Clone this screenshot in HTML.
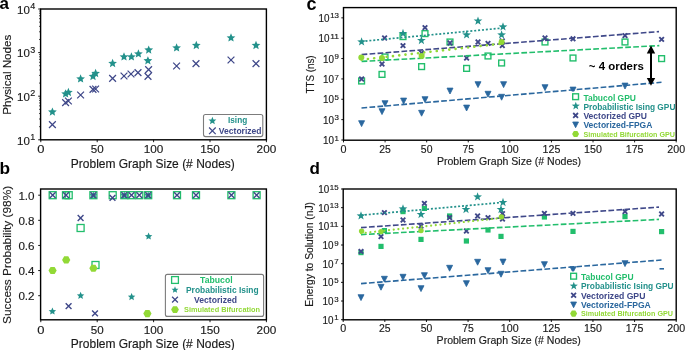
<!DOCTYPE html><html><head><meta charset="utf-8"><style>html,body{margin:0;padding:0;background:#fff;overflow:hidden;width:685px;height:350px;}svg{display:block;will-change:transform;}text{font-family:"Liberation Sans",sans-serif;}</style></head><body>
<svg width="685" height="350" viewBox="0 0 685 350">
<rect width="685" height="350" fill="#fff"/>
<text x="-0.6" y="8.6" font-size="17" text-anchor="start" font-weight="bold" fill="#000">a</text>
<text x="-0.6" y="174" font-size="17.3" text-anchor="start" font-weight="bold" fill="#000">b</text>
<text x="306.4" y="9.5" font-size="18" text-anchor="start" font-weight="bold" fill="#000">c</text>
<text x="309.5" y="174.4" font-size="17" text-anchor="start" font-weight="bold" fill="#000">d</text>
<line x1="39.0" y1="126.68" x2="40.6" y2="126.68" stroke="#000" stroke-width="0.7" stroke-linecap="butt"/>
<line x1="39.0" y1="119.0" x2="40.6" y2="119.0" stroke="#000" stroke-width="0.7" stroke-linecap="butt"/>
<line x1="39.0" y1="113.55" x2="40.6" y2="113.55" stroke="#000" stroke-width="0.7" stroke-linecap="butt"/>
<line x1="39.0" y1="109.32" x2="40.6" y2="109.32" stroke="#000" stroke-width="0.7" stroke-linecap="butt"/>
<line x1="39.0" y1="105.87" x2="40.6" y2="105.87" stroke="#000" stroke-width="0.7" stroke-linecap="butt"/>
<line x1="39.0" y1="102.95" x2="40.6" y2="102.95" stroke="#000" stroke-width="0.7" stroke-linecap="butt"/>
<line x1="39.0" y1="100.43" x2="40.6" y2="100.43" stroke="#000" stroke-width="0.7" stroke-linecap="butt"/>
<line x1="39.0" y1="98.2" x2="40.6" y2="98.2" stroke="#000" stroke-width="0.7" stroke-linecap="butt"/>
<line x1="39.0" y1="83.08" x2="40.6" y2="83.08" stroke="#000" stroke-width="0.7" stroke-linecap="butt"/>
<line x1="39.0" y1="75.4" x2="40.6" y2="75.4" stroke="#000" stroke-width="0.7" stroke-linecap="butt"/>
<line x1="39.0" y1="69.95" x2="40.6" y2="69.95" stroke="#000" stroke-width="0.7" stroke-linecap="butt"/>
<line x1="39.0" y1="65.72" x2="40.6" y2="65.72" stroke="#000" stroke-width="0.7" stroke-linecap="butt"/>
<line x1="39.0" y1="62.27" x2="40.6" y2="62.27" stroke="#000" stroke-width="0.7" stroke-linecap="butt"/>
<line x1="39.0" y1="59.35" x2="40.6" y2="59.35" stroke="#000" stroke-width="0.7" stroke-linecap="butt"/>
<line x1="39.0" y1="56.83" x2="40.6" y2="56.83" stroke="#000" stroke-width="0.7" stroke-linecap="butt"/>
<line x1="39.0" y1="54.6" x2="40.6" y2="54.6" stroke="#000" stroke-width="0.7" stroke-linecap="butt"/>
<line x1="39.0" y1="39.48" x2="40.6" y2="39.48" stroke="#000" stroke-width="0.7" stroke-linecap="butt"/>
<line x1="39.0" y1="31.8" x2="40.6" y2="31.8" stroke="#000" stroke-width="0.7" stroke-linecap="butt"/>
<line x1="39.0" y1="26.35" x2="40.6" y2="26.35" stroke="#000" stroke-width="0.7" stroke-linecap="butt"/>
<line x1="39.0" y1="22.12" x2="40.6" y2="22.12" stroke="#000" stroke-width="0.7" stroke-linecap="butt"/>
<line x1="39.0" y1="18.67" x2="40.6" y2="18.67" stroke="#000" stroke-width="0.7" stroke-linecap="butt"/>
<line x1="39.0" y1="15.75" x2="40.6" y2="15.75" stroke="#000" stroke-width="0.7" stroke-linecap="butt"/>
<line x1="39.0" y1="13.23" x2="40.6" y2="13.23" stroke="#000" stroke-width="0.7" stroke-linecap="butt"/>
<line x1="39.0" y1="11.0" x2="40.6" y2="11.0" stroke="#000" stroke-width="0.7" stroke-linecap="butt"/>
<line x1="38.2" y1="139.8" x2="40.6" y2="139.8" stroke="#000" stroke-width="0.9" stroke-linecap="butt"/>
<text x="35.2" y="139.90" font-size="8.3" text-anchor="end" fill="#1a1a1a" textLength="5.0" lengthAdjust="spacingAndGlyphs" stroke="#1a1a1a" stroke-width="0.15">1</text>
<text x="29.90" y="144.50" font-size="11.6" text-anchor="end" fill="#1a1a1a" textLength="12.8" lengthAdjust="spacingAndGlyphs" stroke="#1a1a1a" stroke-width="0.15">10</text>
<line x1="38.2" y1="96.2" x2="40.6" y2="96.2" stroke="#000" stroke-width="0.9" stroke-linecap="butt"/>
<text x="35.2" y="96.30" font-size="8.3" text-anchor="end" fill="#1a1a1a" textLength="5.0" lengthAdjust="spacingAndGlyphs" stroke="#1a1a1a" stroke-width="0.15">2</text>
<text x="29.90" y="100.90" font-size="11.6" text-anchor="end" fill="#1a1a1a" textLength="12.8" lengthAdjust="spacingAndGlyphs" stroke="#1a1a1a" stroke-width="0.15">10</text>
<line x1="38.2" y1="52.6" x2="40.6" y2="52.6" stroke="#000" stroke-width="0.9" stroke-linecap="butt"/>
<text x="35.2" y="52.70" font-size="8.3" text-anchor="end" fill="#1a1a1a" textLength="5.0" lengthAdjust="spacingAndGlyphs" stroke="#1a1a1a" stroke-width="0.15">3</text>
<text x="29.90" y="57.30" font-size="11.6" text-anchor="end" fill="#1a1a1a" textLength="12.8" lengthAdjust="spacingAndGlyphs" stroke="#1a1a1a" stroke-width="0.15">10</text>
<line x1="38.2" y1="9.0" x2="40.6" y2="9.0" stroke="#000" stroke-width="0.9" stroke-linecap="butt"/>
<text x="35.2" y="9.10" font-size="8.3" text-anchor="end" fill="#1a1a1a" textLength="5.0" lengthAdjust="spacingAndGlyphs" stroke="#1a1a1a" stroke-width="0.15">4</text>
<text x="29.90" y="13.70" font-size="11.6" text-anchor="end" fill="#1a1a1a" textLength="12.8" lengthAdjust="spacingAndGlyphs" stroke="#1a1a1a" stroke-width="0.15">10</text>
<line x1="40.8" y1="139.8" x2="40.8" y2="142.20000000000002" stroke="#000" stroke-width="0.9" stroke-linecap="butt"/>
<text x="40.8" y="153.4" font-size="11.6" text-anchor="middle" font-weight="normal" fill="#1a1a1a" textLength="7.2" lengthAdjust="spacingAndGlyphs" stroke="#1a1a1a" stroke-width="0.15">0</text>
<line x1="97.2" y1="139.8" x2="97.2" y2="142.20000000000002" stroke="#000" stroke-width="0.9" stroke-linecap="butt"/>
<text x="97.2" y="153.4" font-size="11.6" text-anchor="middle" font-weight="normal" fill="#1a1a1a" textLength="12.9" lengthAdjust="spacingAndGlyphs" stroke="#1a1a1a" stroke-width="0.15">50</text>
<line x1="153.6" y1="139.8" x2="153.6" y2="142.20000000000002" stroke="#000" stroke-width="0.9" stroke-linecap="butt"/>
<text x="153.6" y="153.4" font-size="11.6" text-anchor="middle" font-weight="normal" fill="#1a1a1a" textLength="19.6" lengthAdjust="spacingAndGlyphs" stroke="#1a1a1a" stroke-width="0.15">100</text>
<line x1="210.0" y1="139.8" x2="210.0" y2="142.20000000000002" stroke="#000" stroke-width="0.9" stroke-linecap="butt"/>
<text x="210.0" y="153.4" font-size="11.6" text-anchor="middle" font-weight="normal" fill="#1a1a1a" textLength="19.6" lengthAdjust="spacingAndGlyphs" stroke="#1a1a1a" stroke-width="0.15">150</text>
<line x1="266.4" y1="139.8" x2="266.4" y2="142.20000000000002" stroke="#000" stroke-width="0.9" stroke-linecap="butt"/>
<text x="266.4" y="153.4" font-size="11.6" text-anchor="middle" font-weight="normal" fill="#1a1a1a" textLength="19.6" lengthAdjust="spacingAndGlyphs" stroke="#1a1a1a" stroke-width="0.15">200</text>
<text x="152.8" y="167.9" font-size="11.9" text-anchor="middle" font-weight="normal" fill="#1a1a1a" textLength="164" lengthAdjust="spacingAndGlyphs" stroke="#1a1a1a" stroke-width="0.15">Problem Graph Size (# Nodes)</text>
<text transform="translate(10.9,74.75) rotate(-90)" x="0" y="0" font-size="11.4" text-anchor="middle" fill="#1a1a1a" textLength="80" lengthAdjust="spacingAndGlyphs" stroke="#1a1a1a" stroke-width="0.15">Physical Nodes</text>
<polygon points="52.40,107.44 53.62,110.36 56.77,110.62 54.37,112.68 55.10,115.76 52.40,114.11 49.70,115.76 50.43,112.68 48.03,110.62 51.18,110.36" fill="#23918b"/>
<polygon points="65.60,89.24 66.82,92.16 69.97,92.42 67.57,94.48 68.30,97.56 65.60,95.91 62.90,97.56 63.63,94.48 61.23,92.42 64.38,92.16" fill="#23918b"/>
<polygon points="68.40,87.84 69.62,90.76 72.77,91.02 70.37,93.08 71.10,96.16 68.40,94.51 65.70,96.16 66.43,93.08 64.03,91.02 67.18,90.76" fill="#23918b"/>
<polygon points="80.60,74.24 81.82,77.16 84.97,77.42 82.57,79.48 83.30,82.56 80.60,80.91 77.90,82.56 78.63,79.48 76.23,77.42 79.38,77.16" fill="#23918b"/>
<polygon points="93.00,71.84 94.22,74.76 97.37,75.02 94.97,77.08 95.70,80.16 93.00,78.51 90.30,80.16 91.03,77.08 88.63,75.02 91.78,74.76" fill="#23918b"/>
<polygon points="95.60,68.84 96.82,71.76 99.97,72.02 97.57,74.08 98.30,77.16 95.60,75.51 92.90,77.16 93.63,74.08 91.23,72.02 94.38,71.76" fill="#23918b"/>
<polygon points="112.60,58.84 113.82,61.76 116.97,62.02 114.57,64.08 115.30,67.16 112.60,65.51 109.90,67.16 110.63,64.08 108.23,62.02 111.38,61.76" fill="#23918b"/>
<polygon points="124.00,52.24 125.22,55.16 128.37,55.42 125.97,57.48 126.70,60.56 124.00,58.91 121.30,60.56 122.03,57.48 119.63,55.42 122.78,55.16" fill="#23918b"/>
<polygon points="131.40,52.24 132.62,55.16 135.77,55.42 133.37,57.48 134.10,60.56 131.40,58.91 128.70,60.56 129.43,57.48 127.03,55.42 130.18,55.16" fill="#23918b"/>
<polygon points="138.40,49.24 139.62,52.16 142.77,52.42 140.37,54.48 141.10,57.56 138.40,55.91 135.70,57.56 136.43,54.48 134.03,52.42 137.18,52.16" fill="#23918b"/>
<polygon points="148.70,45.44 149.92,48.36 153.07,48.62 150.67,50.68 151.40,53.76 148.70,52.11 146.00,53.76 146.73,50.68 144.33,48.62 147.48,48.36" fill="#23918b"/>
<polygon points="147.90,56.14 149.12,59.06 152.27,59.32 149.87,61.38 150.60,64.46 147.90,62.81 145.20,64.46 145.93,61.38 143.53,59.32 146.68,59.06" fill="#23918b"/>
<polygon points="176.60,43.24 177.82,46.16 180.97,46.42 178.57,48.48 179.30,51.56 176.60,49.91 173.90,51.56 174.63,48.48 172.23,46.42 175.38,46.16" fill="#23918b"/>
<polygon points="196.30,40.84 197.52,43.76 200.67,44.02 198.27,46.08 199.00,49.16 196.30,47.51 193.60,49.16 194.33,46.08 191.93,44.02 195.08,43.76" fill="#23918b"/>
<polygon points="231.00,33.24 232.22,36.16 235.37,36.42 232.97,38.48 233.70,41.56 231.00,39.91 228.30,41.56 229.03,38.48 226.63,36.42 229.78,36.16" fill="#23918b"/>
<polygon points="256.00,40.84 257.22,43.76 260.37,44.02 257.97,46.08 258.70,49.16 256.00,47.51 253.30,49.16 254.03,46.08 251.63,44.02 254.78,43.76" fill="#23918b"/>
<path d="M49.00 121.20L55.80 128.00M49.00 128.00L55.80 121.20" stroke="#3f4889" stroke-width="1.25" fill="none"/>
<path d="M62.20 99.20L69.00 106.00M62.20 106.00L69.00 99.20" stroke="#3f4889" stroke-width="1.25" fill="none"/>
<path d="M65.00 97.60L71.80 104.40M65.00 104.40L71.80 97.60" stroke="#3f4889" stroke-width="1.25" fill="none"/>
<path d="M77.20 91.60L84.00 98.40M77.20 98.40L84.00 91.60" stroke="#3f4889" stroke-width="1.25" fill="none"/>
<path d="M89.60 86.00L96.40 92.80M89.60 92.80L96.40 86.00" stroke="#3f4889" stroke-width="1.25" fill="none"/>
<path d="M92.20 85.60L99.00 92.40M92.20 92.40L99.00 85.60" stroke="#3f4889" stroke-width="1.25" fill="none"/>
<path d="M109.20 75.00L116.00 81.80M109.20 81.80L116.00 75.00" stroke="#3f4889" stroke-width="1.25" fill="none"/>
<path d="M120.60 72.60L127.40 79.40M120.60 79.40L127.40 72.60" stroke="#3f4889" stroke-width="1.25" fill="none"/>
<path d="M127.60 70.60L134.40 77.40M127.60 77.40L134.40 70.60" stroke="#3f4889" stroke-width="1.25" fill="none"/>
<path d="M134.60 69.20L141.40 76.00M134.60 76.00L141.40 69.20" stroke="#3f4889" stroke-width="1.25" fill="none"/>
<path d="M145.20 66.20L152.00 73.00M145.20 73.00L152.00 66.20" stroke="#3f4889" stroke-width="1.25" fill="none"/>
<path d="M144.60 73.00L151.40 79.80M144.60 79.80L151.40 73.00" stroke="#3f4889" stroke-width="1.25" fill="none"/>
<path d="M173.20 62.60L180.00 69.40M173.20 69.40L180.00 62.60" stroke="#3f4889" stroke-width="1.25" fill="none"/>
<path d="M192.60 60.20L199.40 67.00M192.60 67.00L199.40 60.20" stroke="#3f4889" stroke-width="1.25" fill="none"/>
<path d="M227.60 56.60L234.40 63.40M227.60 63.40L234.40 56.60" stroke="#3f4889" stroke-width="1.25" fill="none"/>
<path d="M252.60 60.20L259.40 67.00M252.60 67.00L259.40 60.20" stroke="#3f4889" stroke-width="1.25" fill="none"/>
<rect x="203.5" y="114.5" width="59.3" height="22.1" rx="2" ry="2" fill="#fff" stroke="#7c7c7c" stroke-width="1.1"/>
<polygon points="212.40,116.79 213.48,119.40 216.30,119.62 214.15,121.46 214.81,124.21 212.40,122.73 209.99,124.21 210.65,121.46 208.50,119.62 211.32,119.40" fill="#23918b"/>
<path d="M209.10 127.50L215.70 134.10M209.10 134.10L215.70 127.50" stroke="#3f4889" stroke-width="1.25" fill="none"/>
<text x="237.6" y="123.0" font-size="8.4" text-anchor="middle" font-weight="bold" fill="#23918b" textLength="19.2" lengthAdjust="spacingAndGlyphs">Ising</text>
<text x="240.2" y="133.8" font-size="8.4" text-anchor="middle" font-weight="bold" fill="#3f4889" textLength="42.7" lengthAdjust="spacingAndGlyphs">Vectorized</text>
<rect x="40.6" y="9.0" width="225.79999999999998" height="130.8" fill="none" stroke="#000" stroke-width="1.4"/>
<line x1="38.2" y1="295.7" x2="40.6" y2="295.7" stroke="#000" stroke-width="0.9" stroke-linecap="butt"/>
<text x="34.6" y="300.2" font-size="11.6" text-anchor="end" font-weight="normal" fill="#1a1a1a" textLength="16.2" lengthAdjust="spacingAndGlyphs" stroke="#1a1a1a" stroke-width="0.15">0.2</text>
<line x1="38.2" y1="270.57" x2="40.6" y2="270.57" stroke="#000" stroke-width="0.9" stroke-linecap="butt"/>
<text x="34.6" y="275.07" font-size="11.6" text-anchor="end" font-weight="normal" fill="#1a1a1a" textLength="16.2" lengthAdjust="spacingAndGlyphs" stroke="#1a1a1a" stroke-width="0.15">0.4</text>
<line x1="38.2" y1="245.45" x2="40.6" y2="245.45" stroke="#000" stroke-width="0.9" stroke-linecap="butt"/>
<text x="34.6" y="249.95" font-size="11.6" text-anchor="end" font-weight="normal" fill="#1a1a1a" textLength="16.2" lengthAdjust="spacingAndGlyphs" stroke="#1a1a1a" stroke-width="0.15">0.6</text>
<line x1="38.2" y1="220.32" x2="40.6" y2="220.32" stroke="#000" stroke-width="0.9" stroke-linecap="butt"/>
<text x="34.6" y="224.82" font-size="11.6" text-anchor="end" font-weight="normal" fill="#1a1a1a" textLength="16.2" lengthAdjust="spacingAndGlyphs" stroke="#1a1a1a" stroke-width="0.15">0.8</text>
<line x1="38.2" y1="195.2" x2="40.6" y2="195.2" stroke="#000" stroke-width="0.9" stroke-linecap="butt"/>
<text x="34.6" y="199.7" font-size="11.6" text-anchor="end" font-weight="normal" fill="#1a1a1a" textLength="16.2" lengthAdjust="spacingAndGlyphs" stroke="#1a1a1a" stroke-width="0.15">1.0</text>
<line x1="40.8" y1="319.8" x2="40.8" y2="322.2" stroke="#000" stroke-width="0.9" stroke-linecap="butt"/>
<text x="40.8" y="333.7" font-size="11.6" text-anchor="middle" font-weight="normal" fill="#1a1a1a" textLength="7.2" lengthAdjust="spacingAndGlyphs" stroke="#1a1a1a" stroke-width="0.15">0</text>
<line x1="97.2" y1="319.8" x2="97.2" y2="322.2" stroke="#000" stroke-width="0.9" stroke-linecap="butt"/>
<text x="97.2" y="333.7" font-size="11.6" text-anchor="middle" font-weight="normal" fill="#1a1a1a" textLength="12.9" lengthAdjust="spacingAndGlyphs" stroke="#1a1a1a" stroke-width="0.15">50</text>
<line x1="153.6" y1="319.8" x2="153.6" y2="322.2" stroke="#000" stroke-width="0.9" stroke-linecap="butt"/>
<text x="153.6" y="333.7" font-size="11.6" text-anchor="middle" font-weight="normal" fill="#1a1a1a" textLength="19.6" lengthAdjust="spacingAndGlyphs" stroke="#1a1a1a" stroke-width="0.15">100</text>
<line x1="210.0" y1="319.8" x2="210.0" y2="322.2" stroke="#000" stroke-width="0.9" stroke-linecap="butt"/>
<text x="210.0" y="333.7" font-size="11.6" text-anchor="middle" font-weight="normal" fill="#1a1a1a" textLength="19.6" lengthAdjust="spacingAndGlyphs" stroke="#1a1a1a" stroke-width="0.15">150</text>
<line x1="266.4" y1="319.8" x2="266.4" y2="322.2" stroke="#000" stroke-width="0.9" stroke-linecap="butt"/>
<text x="266.4" y="333.7" font-size="11.6" text-anchor="middle" font-weight="normal" fill="#1a1a1a" textLength="19.6" lengthAdjust="spacingAndGlyphs" stroke="#1a1a1a" stroke-width="0.15">200</text>
<text x="152.8" y="348.1" font-size="11.9" text-anchor="middle" font-weight="normal" fill="#1a1a1a" textLength="164" lengthAdjust="spacingAndGlyphs" stroke="#1a1a1a" stroke-width="0.15">Problem Graph Size (# Nodes)</text>
<text transform="translate(11.2,254.9) rotate(-90)" x="0" y="0" font-size="11.4" text-anchor="middle" fill="#1a1a1a" textLength="138" lengthAdjust="spacingAndGlyphs" stroke="#1a1a1a" stroke-width="0.15">Success Probability (98%)</text>
<rect x="49.20" y="191.70" width="7.00" height="7.00" fill="none" stroke="#22be6c" stroke-width="1.3"/>
<rect x="62.50" y="191.70" width="7.00" height="7.00" fill="none" stroke="#22be6c" stroke-width="1.3"/>
<rect x="65.20" y="191.70" width="7.00" height="7.00" fill="none" stroke="#22be6c" stroke-width="1.3"/>
<rect x="89.90" y="191.70" width="7.00" height="7.00" fill="none" stroke="#22be6c" stroke-width="1.3"/>
<rect x="109.20" y="191.70" width="7.00" height="7.00" fill="none" stroke="#22be6c" stroke-width="1.3"/>
<rect x="120.80" y="191.70" width="7.00" height="7.00" fill="none" stroke="#22be6c" stroke-width="1.3"/>
<rect x="128.00" y="191.70" width="7.00" height="7.00" fill="none" stroke="#22be6c" stroke-width="1.3"/>
<rect x="135.80" y="191.70" width="7.00" height="7.00" fill="none" stroke="#22be6c" stroke-width="1.3"/>
<rect x="144.70" y="191.70" width="7.00" height="7.00" fill="none" stroke="#22be6c" stroke-width="1.3"/>
<rect x="173.50" y="191.70" width="7.00" height="7.00" fill="none" stroke="#22be6c" stroke-width="1.3"/>
<rect x="192.50" y="191.70" width="7.00" height="7.00" fill="none" stroke="#22be6c" stroke-width="1.3"/>
<rect x="227.90" y="191.70" width="7.00" height="7.00" fill="none" stroke="#22be6c" stroke-width="1.3"/>
<rect x="253.10" y="191.70" width="7.00" height="7.00" fill="none" stroke="#22be6c" stroke-width="1.3"/>
<rect x="77.10" y="224.50" width="7.00" height="7.00" fill="none" stroke="#22be6c" stroke-width="1.3"/>
<rect x="92.00" y="261.50" width="7.00" height="7.00" fill="none" stroke="#22be6c" stroke-width="1.3"/>
<polygon points="93.40,191.67 94.48,194.09 97.11,194.37 95.14,196.14 95.69,198.73 93.40,197.40 91.11,198.73 91.66,196.14 89.69,194.37 92.32,194.09" fill="#23918b"/>
<polygon points="124.30,191.67 125.38,194.09 128.01,194.37 126.04,196.14 126.59,198.73 124.30,197.40 122.01,198.73 122.56,196.14 120.59,194.37 123.22,194.09" fill="#23918b"/>
<polygon points="148.20,191.67 149.28,194.09 151.91,194.37 149.94,196.14 150.49,198.73 148.20,197.40 145.91,198.73 146.46,196.14 144.49,194.37 147.12,194.09" fill="#23918b"/>
<polygon points="148.60,232.47 149.68,234.89 152.31,235.17 150.34,236.94 150.89,239.53 148.60,238.20 146.31,239.53 146.86,236.94 144.89,235.17 147.52,234.89" fill="#23918b"/>
<polygon points="80.60,291.87 81.68,294.29 84.31,294.57 82.34,296.34 82.89,298.93 80.60,297.60 78.31,298.93 78.86,296.34 76.89,294.57 79.52,294.29" fill="#23918b"/>
<polygon points="131.60,293.07 132.68,295.49 135.31,295.77 133.34,297.54 133.89,300.13 131.60,298.80 129.31,300.13 129.86,297.54 127.89,295.77 130.52,295.49" fill="#23918b"/>
<polygon points="52.40,307.47 53.48,309.89 56.11,310.17 54.14,311.94 54.69,314.53 52.40,313.20 50.11,314.53 50.66,311.94 48.69,310.17 51.32,309.89" fill="#23918b"/>
<path d="M49.80 192.30L55.60 198.10M49.80 198.10L55.60 192.30" stroke="#3f4889" stroke-width="1.4" fill="none"/>
<path d="M63.10 192.30L68.90 198.10M63.10 198.10L68.90 192.30" stroke="#3f4889" stroke-width="1.4" fill="none"/>
<path d="M90.50 192.30L96.30 198.10M90.50 198.10L96.30 192.30" stroke="#3f4889" stroke-width="1.4" fill="none"/>
<path d="M121.40 192.30L127.20 198.10M121.40 198.10L127.20 192.30" stroke="#3f4889" stroke-width="1.4" fill="none"/>
<path d="M128.60 192.30L134.40 198.10M128.60 198.10L134.40 192.30" stroke="#3f4889" stroke-width="1.4" fill="none"/>
<path d="M136.40 192.30L142.20 198.10M136.40 198.10L142.20 192.30" stroke="#3f4889" stroke-width="1.4" fill="none"/>
<path d="M145.30 192.30L151.10 198.10M145.30 198.10L151.10 192.30" stroke="#3f4889" stroke-width="1.4" fill="none"/>
<path d="M174.10 192.30L179.90 198.10M174.10 198.10L179.90 192.30" stroke="#3f4889" stroke-width="1.4" fill="none"/>
<path d="M193.10 192.30L198.90 198.10M193.10 198.10L198.90 192.30" stroke="#3f4889" stroke-width="1.4" fill="none"/>
<path d="M228.50 192.30L234.30 198.10M228.50 198.10L234.30 192.30" stroke="#3f4889" stroke-width="1.4" fill="none"/>
<path d="M253.70 192.30L259.50 198.10M253.70 198.10L259.50 192.30" stroke="#3f4889" stroke-width="1.4" fill="none"/>
<path d="M109.60 194.90L115.40 200.70M109.60 200.70L115.40 194.90" stroke="#3f4889" stroke-width="1.4" fill="none"/>
<path d="M77.70 215.10L83.50 220.90M77.70 220.90L83.50 215.10" stroke="#3f4889" stroke-width="1.4" fill="none"/>
<path d="M65.70 303.30L71.50 309.10M65.70 309.10L71.50 303.30" stroke="#3f4889" stroke-width="1.4" fill="none"/>
<path d="M92.10 310.50L97.90 316.30M92.10 316.30L97.90 310.50" stroke="#3f4889" stroke-width="1.4" fill="none"/>
<polygon points="56.70,270.50 54.65,274.05 50.55,274.05 48.50,270.50 50.55,266.95 54.65,266.95" fill="#92d936"/>
<polygon points="70.30,259.90 68.25,263.45 64.15,263.45 62.10,259.90 64.15,256.35 68.25,256.35" fill="#92d936"/>
<polygon points="97.50,268.20 95.45,271.75 91.35,271.75 89.30,268.20 91.35,264.65 95.45,264.65" fill="#92d936"/>
<polygon points="151.50,313.60 149.45,317.15 145.35,317.15 143.30,313.60 145.35,310.05 149.45,310.05" fill="#92d936"/>
<rect x="165.4" y="274.4" width="98.2" height="42" rx="2" ry="2" fill="#fff" stroke="#7c7c7c" stroke-width="1.1"/>
<rect x="171.60" y="276.60" width="6.80" height="6.80" fill="none" stroke="#22be6c" stroke-width="1.3"/>
<polygon points="175.00,286.34 175.95,288.63 178.42,288.83 176.54,290.44 177.12,292.85 175.00,291.56 172.88,292.85 173.46,290.44 171.58,288.83 174.05,288.63" fill="#23918b"/>
<path d="M172.10 296.70L177.90 302.50M172.10 302.50L177.90 296.70" stroke="#3f4889" stroke-width="1.25" fill="none"/>
<polygon points="178.90,309.60 176.95,312.98 173.05,312.98 171.10,309.60 173.05,306.22 176.95,306.22" fill="#92d936"/>
<text x="216.3" y="283.1" font-size="8.4" text-anchor="middle" font-weight="bold" fill="#22be6c" textLength="32.6" lengthAdjust="spacingAndGlyphs">Tabucol</text>
<text x="222.3" y="292.7" font-size="8.4" text-anchor="middle" font-weight="bold" fill="#23918b" textLength="72.6" lengthAdjust="spacingAndGlyphs">Probabilistic Ising</text>
<text x="215.5" y="302.7" font-size="8.4" text-anchor="middle" font-weight="bold" fill="#3f4889" textLength="43" lengthAdjust="spacingAndGlyphs">Vectorized</text>
<text x="222.0" y="312.3" font-size="8.0" text-anchor="middle" font-weight="bold" fill="#92d936" textLength="76" lengthAdjust="spacingAndGlyphs">Simulated Bifurcation</text>
<rect x="40.6" y="189.0" width="225.79999999999998" height="130.8" fill="none" stroke="#000" stroke-width="1.4"/>
<line x1="341.3" y1="140.0" x2="343.5" y2="140.0" stroke="#000" stroke-width="0.9" stroke-linecap="butt"/>
<text x="339.0" y="140.60" font-size="7.0" text-anchor="end" fill="#1a1a1a" textLength="4.4" lengthAdjust="spacingAndGlyphs" stroke="#1a1a1a" stroke-width="0.15">1</text>
<text x="334.00" y="144.10" font-size="10.2" text-anchor="end" fill="#1a1a1a" textLength="11.0" lengthAdjust="spacingAndGlyphs" stroke="#1a1a1a" stroke-width="0.15">10</text>
<line x1="341.3" y1="119.64" x2="343.5" y2="119.64" stroke="#000" stroke-width="0.9" stroke-linecap="butt"/>
<text x="339.0" y="120.24" font-size="7.0" text-anchor="end" fill="#1a1a1a" textLength="4.4" lengthAdjust="spacingAndGlyphs" stroke="#1a1a1a" stroke-width="0.15">3</text>
<text x="334.00" y="123.74" font-size="10.2" text-anchor="end" fill="#1a1a1a" textLength="11.0" lengthAdjust="spacingAndGlyphs" stroke="#1a1a1a" stroke-width="0.15">10</text>
<line x1="341.3" y1="99.28" x2="343.5" y2="99.28" stroke="#000" stroke-width="0.9" stroke-linecap="butt"/>
<text x="339.0" y="99.88" font-size="7.0" text-anchor="end" fill="#1a1a1a" textLength="4.4" lengthAdjust="spacingAndGlyphs" stroke="#1a1a1a" stroke-width="0.15">5</text>
<text x="334.00" y="103.38" font-size="10.2" text-anchor="end" fill="#1a1a1a" textLength="11.0" lengthAdjust="spacingAndGlyphs" stroke="#1a1a1a" stroke-width="0.15">10</text>
<line x1="341.3" y1="78.92" x2="343.5" y2="78.92" stroke="#000" stroke-width="0.9" stroke-linecap="butt"/>
<text x="339.0" y="79.52" font-size="7.0" text-anchor="end" fill="#1a1a1a" textLength="4.4" lengthAdjust="spacingAndGlyphs" stroke="#1a1a1a" stroke-width="0.15">7</text>
<text x="334.00" y="83.02" font-size="10.2" text-anchor="end" fill="#1a1a1a" textLength="11.0" lengthAdjust="spacingAndGlyphs" stroke="#1a1a1a" stroke-width="0.15">10</text>
<line x1="341.3" y1="58.56" x2="343.5" y2="58.56" stroke="#000" stroke-width="0.9" stroke-linecap="butt"/>
<text x="339.0" y="59.16" font-size="7.0" text-anchor="end" fill="#1a1a1a" textLength="4.4" lengthAdjust="spacingAndGlyphs" stroke="#1a1a1a" stroke-width="0.15">9</text>
<text x="334.00" y="62.66" font-size="10.2" text-anchor="end" fill="#1a1a1a" textLength="11.0" lengthAdjust="spacingAndGlyphs" stroke="#1a1a1a" stroke-width="0.15">10</text>
<line x1="341.3" y1="38.2" x2="343.5" y2="38.2" stroke="#000" stroke-width="0.9" stroke-linecap="butt"/>
<text x="339.0" y="38.80" font-size="7.0" text-anchor="end" fill="#1a1a1a" textLength="8.8" lengthAdjust="spacingAndGlyphs" stroke="#1a1a1a" stroke-width="0.15">11</text>
<text x="329.60" y="42.30" font-size="10.2" text-anchor="end" fill="#1a1a1a" textLength="11.0" lengthAdjust="spacingAndGlyphs" stroke="#1a1a1a" stroke-width="0.15">10</text>
<line x1="341.3" y1="17.84" x2="343.5" y2="17.84" stroke="#000" stroke-width="0.9" stroke-linecap="butt"/>
<text x="339.0" y="18.44" font-size="7.0" text-anchor="end" fill="#1a1a1a" textLength="8.8" lengthAdjust="spacingAndGlyphs" stroke="#1a1a1a" stroke-width="0.15">13</text>
<text x="329.60" y="21.94" font-size="10.2" text-anchor="end" fill="#1a1a1a" textLength="11.0" lengthAdjust="spacingAndGlyphs" stroke="#1a1a1a" stroke-width="0.15">10</text>
<line x1="343.5" y1="140.2" x2="343.5" y2="142.39999999999998" stroke="#000" stroke-width="0.9" stroke-linecap="butt"/>
<text x="343.5" y="152.8" font-size="10.2" text-anchor="middle" font-weight="normal" fill="#1a1a1a" textLength="6.0" lengthAdjust="spacingAndGlyphs" stroke="#1a1a1a" stroke-width="0.15">0</text>
<line x1="385.09" y1="140.2" x2="385.09" y2="142.39999999999998" stroke="#000" stroke-width="0.9" stroke-linecap="butt"/>
<text x="385.09" y="152.8" font-size="10.2" text-anchor="middle" font-weight="normal" fill="#1a1a1a" textLength="11.6" lengthAdjust="spacingAndGlyphs" stroke="#1a1a1a" stroke-width="0.15">25</text>
<line x1="426.68" y1="140.2" x2="426.68" y2="142.39999999999998" stroke="#000" stroke-width="0.9" stroke-linecap="butt"/>
<text x="426.68" y="152.8" font-size="10.2" text-anchor="middle" font-weight="normal" fill="#1a1a1a" textLength="11.6" lengthAdjust="spacingAndGlyphs" stroke="#1a1a1a" stroke-width="0.15">50</text>
<line x1="468.26" y1="140.2" x2="468.26" y2="142.39999999999998" stroke="#000" stroke-width="0.9" stroke-linecap="butt"/>
<text x="468.26" y="152.8" font-size="10.2" text-anchor="middle" font-weight="normal" fill="#1a1a1a" textLength="11.6" lengthAdjust="spacingAndGlyphs" stroke="#1a1a1a" stroke-width="0.15">75</text>
<line x1="509.85" y1="140.2" x2="509.85" y2="142.39999999999998" stroke="#000" stroke-width="0.9" stroke-linecap="butt"/>
<text x="509.85" y="152.8" font-size="10.2" text-anchor="middle" font-weight="normal" fill="#1a1a1a" textLength="17.8" lengthAdjust="spacingAndGlyphs" stroke="#1a1a1a" stroke-width="0.15">100</text>
<line x1="551.44" y1="140.2" x2="551.44" y2="142.39999999999998" stroke="#000" stroke-width="0.9" stroke-linecap="butt"/>
<text x="551.44" y="152.8" font-size="10.2" text-anchor="middle" font-weight="normal" fill="#1a1a1a" textLength="17.8" lengthAdjust="spacingAndGlyphs" stroke="#1a1a1a" stroke-width="0.15">125</text>
<line x1="593.03" y1="140.2" x2="593.03" y2="142.39999999999998" stroke="#000" stroke-width="0.9" stroke-linecap="butt"/>
<text x="593.03" y="152.8" font-size="10.2" text-anchor="middle" font-weight="normal" fill="#1a1a1a" textLength="17.8" lengthAdjust="spacingAndGlyphs" stroke="#1a1a1a" stroke-width="0.15">150</text>
<line x1="634.61" y1="140.2" x2="634.61" y2="142.39999999999998" stroke="#000" stroke-width="0.9" stroke-linecap="butt"/>
<text x="634.61" y="152.8" font-size="10.2" text-anchor="middle" font-weight="normal" fill="#1a1a1a" textLength="17.8" lengthAdjust="spacingAndGlyphs" stroke="#1a1a1a" stroke-width="0.15">175</text>
<line x1="676.2" y1="140.2" x2="676.2" y2="142.39999999999998" stroke="#000" stroke-width="0.9" stroke-linecap="butt"/>
<text x="676.2" y="152.8" font-size="10.2" text-anchor="middle" font-weight="normal" fill="#1a1a1a" textLength="17.8" lengthAdjust="spacingAndGlyphs" stroke="#1a1a1a" stroke-width="0.15">200</text>
<text x="509.0" y="164.6" font-size="10.4" text-anchor="middle" font-weight="normal" fill="#1a1a1a" textLength="144.2" lengthAdjust="spacingAndGlyphs" stroke="#1a1a1a" stroke-width="0.15">Problem Graph Size (# Nodes)</text>
<text transform="translate(313.5,74.5) rotate(-90)" x="0" y="0" font-size="10.0" text-anchor="middle" fill="#1a1a1a" textLength="38.2" lengthAdjust="spacingAndGlyphs" stroke="#1a1a1a" stroke-width="0.15">TTS (ns)</text>
<rect x="400.10" y="33.70" width="5.80" height="5.80" fill="none" stroke="#22be6c" stroke-width="1.4"/>
<rect x="422.10" y="30.70" width="5.80" height="5.80" fill="none" stroke="#22be6c" stroke-width="1.4"/>
<rect x="447.10" y="39.10" width="5.80" height="5.80" fill="none" stroke="#22be6c" stroke-width="1.4"/>
<rect x="382.10" y="54.10" width="5.80" height="5.80" fill="none" stroke="#22be6c" stroke-width="1.4"/>
<rect x="418.70" y="63.70" width="5.80" height="5.80" fill="none" stroke="#22be6c" stroke-width="1.4"/>
<rect x="463.70" y="65.50" width="5.80" height="5.80" fill="none" stroke="#22be6c" stroke-width="1.4"/>
<rect x="379.10" y="71.50" width="5.80" height="5.80" fill="none" stroke="#22be6c" stroke-width="1.4"/>
<rect x="358.70" y="78.10" width="5.80" height="5.80" fill="none" stroke="#22be6c" stroke-width="1.4"/>
<rect x="485.10" y="53.10" width="5.80" height="5.80" fill="none" stroke="#22be6c" stroke-width="1.4"/>
<rect x="498.70" y="60.10" width="5.80" height="5.80" fill="none" stroke="#22be6c" stroke-width="1.4"/>
<rect x="542.10" y="39.10" width="5.80" height="5.80" fill="none" stroke="#22be6c" stroke-width="1.4"/>
<rect x="570.10" y="55.10" width="5.80" height="5.80" fill="none" stroke="#22be6c" stroke-width="1.4"/>
<rect x="622.10" y="39.10" width="5.80" height="5.80" fill="none" stroke="#22be6c" stroke-width="1.4"/>
<rect x="658.70" y="55.70" width="5.80" height="5.80" fill="none" stroke="#22be6c" stroke-width="1.4"/>
<path d="M382.30 35.70L386.90 40.30M382.30 40.30L386.90 35.70" stroke="#3f4889" stroke-width="1.9" fill="none"/>
<path d="M400.70 43.30L405.30 47.90M400.70 47.90L405.30 43.30" stroke="#3f4889" stroke-width="1.9" fill="none"/>
<path d="M422.70 25.30L427.30 29.90M422.70 29.90L427.30 25.30" stroke="#3f4889" stroke-width="1.9" fill="none"/>
<path d="M447.70 40.70L452.30 45.30M447.70 45.30L452.30 40.70" stroke="#3f4889" stroke-width="1.9" fill="none"/>
<path d="M464.30 55.70L468.90 60.30M464.30 60.30L468.90 55.70" stroke="#3f4889" stroke-width="1.9" fill="none"/>
<path d="M379.70 61.70L384.30 66.30M379.70 66.30L384.30 61.70" stroke="#3f4889" stroke-width="1.9" fill="none"/>
<path d="M475.70 39.70L480.30 44.30M475.70 44.30L480.30 39.70" stroke="#3f4889" stroke-width="1.9" fill="none"/>
<path d="M419.30 50.70L423.90 55.30M419.30 55.30L423.90 50.70" stroke="#3f4889" stroke-width="1.9" fill="none"/>
<path d="M359.30 76.70L363.90 81.30M359.30 81.30L363.90 76.70" stroke="#3f4889" stroke-width="1.9" fill="none"/>
<path d="M485.70 41.10L490.30 45.70M485.70 45.70L490.30 41.10" stroke="#3f4889" stroke-width="1.9" fill="none"/>
<path d="M500.00 38.70L504.60 43.30M500.00 43.30L504.60 38.70" stroke="#3f4889" stroke-width="1.9" fill="none"/>
<path d="M500.00 43.20L504.60 47.80M500.00 47.80L504.60 43.20" stroke="#3f4889" stroke-width="1.9" fill="none"/>
<path d="M542.70 35.70L547.30 40.30M542.70 40.30L547.30 35.70" stroke="#3f4889" stroke-width="1.9" fill="none"/>
<path d="M570.70 36.50L575.30 41.10M570.70 41.10L575.30 36.50" stroke="#3f4889" stroke-width="1.9" fill="none"/>
<path d="M622.70 33.30L627.30 37.90M622.70 37.90L627.30 33.30" stroke="#3f4889" stroke-width="1.9" fill="none"/>
<path d="M659.30 37.10L663.90 41.70M659.30 41.70L663.90 37.10" stroke="#3f4889" stroke-width="1.9" fill="none"/>
<line x1="361.6" y1="61.4" x2="659.3" y2="45.6" stroke="#22be6c" stroke-width="1.6" stroke-dasharray="5.7 2.3" stroke-linecap="butt"/>
<line x1="361.6" y1="54.6" x2="659" y2="31.6" stroke="#3f4889" stroke-width="1.6" stroke-dasharray="5.7 2.3" stroke-linecap="butt"/>
<circle cx="361.3" cy="57.4" r="3.0" fill="#92d936"/>
<circle cx="382" cy="58" r="3.0" fill="#92d936"/>
<circle cx="421.6" cy="56" r="3.0" fill="#92d936"/>
<circle cx="501.6" cy="42" r="3.0" fill="#92d936"/>
<line x1="361.6" y1="59.7" x2="505" y2="43.2" stroke="#92d936" stroke-width="2.6" stroke-dasharray="0.1 6.2" stroke-linecap="round"/>
<polygon points="361.60,37.24 362.68,40.35 365.97,40.42 363.35,42.41 364.30,45.56 361.60,43.68 358.90,45.56 359.85,42.41 357.23,40.42 360.52,40.35" fill="#23918b"/>
<polygon points="403.00,28.84 404.08,31.95 407.37,32.02 404.75,34.01 405.70,37.16 403.00,35.28 400.30,37.16 401.25,34.01 398.63,32.02 401.92,31.95" fill="#23918b"/>
<polygon points="421.40,35.84 422.48,38.95 425.77,39.02 423.15,41.01 424.10,44.16 421.40,42.28 418.70,44.16 419.65,41.01 417.03,39.02 420.32,38.95" fill="#23918b"/>
<polygon points="466.60,30.24 467.68,33.35 470.97,33.42 468.35,35.41 469.30,38.56 466.60,36.68 463.90,38.56 464.85,35.41 462.23,33.42 465.52,33.35" fill="#23918b"/>
<polygon points="478.00,16.44 479.08,19.55 482.37,19.62 479.75,21.61 480.70,24.76 478.00,22.88 475.30,24.76 476.25,21.61 473.63,19.62 476.92,19.55" fill="#23918b"/>
<polygon points="503.00,22.24 504.08,25.35 507.37,25.42 504.75,27.41 505.70,30.56 503.00,28.68 500.30,30.56 501.25,27.41 498.63,25.42 501.92,25.35" fill="#23918b"/>
<polygon points="501.60,30.24 502.68,33.35 505.97,33.42 503.35,35.41 504.30,38.56 501.60,36.68 498.90,38.56 499.85,35.41 497.23,33.42 500.52,33.35" fill="#23918b"/>
<line x1="361.6" y1="41.4" x2="503" y2="28" stroke="#23918b" stroke-width="1.7" stroke-dasharray="2 1.9" stroke-linecap="butt"/>
<polygon points="358.60,120.70 364.60,120.70 361.60,126.60" fill="#2a679e" stroke="#2a679e" stroke-width="0.8" stroke-linejoin="round"/>
<polygon points="379.00,108.70 385.00,108.70 382.00,114.60" fill="#2a679e" stroke="#2a679e" stroke-width="0.8" stroke-linejoin="round"/>
<polygon points="382.00,100.70 388.00,100.70 385.00,106.60" fill="#2a679e" stroke="#2a679e" stroke-width="0.8" stroke-linejoin="round"/>
<polygon points="400.60,98.10 406.60,98.10 403.60,104.00" fill="#2a679e" stroke="#2a679e" stroke-width="0.8" stroke-linejoin="round"/>
<polygon points="418.60,110.30 424.60,110.30 421.60,116.20" fill="#2a679e" stroke="#2a679e" stroke-width="0.8" stroke-linejoin="round"/>
<polygon points="422.00,96.70 428.00,96.70 425.00,102.60" fill="#2a679e" stroke="#2a679e" stroke-width="0.8" stroke-linejoin="round"/>
<polygon points="447.00,88.10 453.00,88.10 450.00,94.00" fill="#2a679e" stroke="#2a679e" stroke-width="0.8" stroke-linejoin="round"/>
<polygon points="463.60,105.10 469.60,105.10 466.60,111.00" fill="#2a679e" stroke="#2a679e" stroke-width="0.8" stroke-linejoin="round"/>
<polygon points="475.00,81.70 481.00,81.70 478.00,87.60" fill="#2a679e" stroke="#2a679e" stroke-width="0.8" stroke-linejoin="round"/>
<polygon points="485.00,91.30 491.00,91.30 488.00,97.20" fill="#2a679e" stroke="#2a679e" stroke-width="0.8" stroke-linejoin="round"/>
<polygon points="500.60,81.70 506.60,81.70 503.60,87.60" fill="#2a679e" stroke="#2a679e" stroke-width="0.8" stroke-linejoin="round"/>
<polygon points="498.60,94.30 504.60,94.30 501.60,100.20" fill="#2a679e" stroke="#2a679e" stroke-width="0.8" stroke-linejoin="round"/>
<polygon points="542.00,84.70 548.00,84.70 545.00,90.60" fill="#2a679e" stroke="#2a679e" stroke-width="0.8" stroke-linejoin="round"/>
<polygon points="570.00,87.10 576.00,87.10 573.00,93.00" fill="#2a679e" stroke="#2a679e" stroke-width="0.8" stroke-linejoin="round"/>
<polygon points="622.00,83.10 628.00,83.10 625.00,89.00" fill="#2a679e" stroke="#2a679e" stroke-width="0.8" stroke-linejoin="round"/>
<line x1="361.5" y1="108" x2="661.5" y2="82.3" stroke="#2a679e" stroke-width="1.6" stroke-dasharray="5.7 2.3" stroke-linecap="butt"/>
<path d="M651 52.5 L651 79" stroke="#000" stroke-width="2"/>
<polygon points="651,45.6 646.8,53.4 655.2,53.4" fill="#000"/>
<polygon points="651,85.8 646.8,78 655.2,78" fill="#000"/>
<text x="588.8" y="69.8" font-size="10.2" text-anchor="start" font-weight="bold" fill="#000" textLength="55" lengthAdjust="spacingAndGlyphs">~ 4 orders</text>
<rect x="567" y="91.6" width="108.5" height="47.4" fill="#fff"/>
<rect x="572.70" y="93.80" width="5.80" height="5.80" fill="none" stroke="#22be6c" stroke-width="1.4"/>
<polygon points="575.80,101.71 576.81,104.62 579.89,104.68 577.44,106.54 578.33,109.49 575.80,107.73 573.27,109.49 574.16,106.54 571.71,104.68 574.79,104.62" fill="#23918b"/>
<path d="M573.20 113.00L578.00 117.80M573.20 117.80L578.00 113.00" stroke="#3f4889" stroke-width="1.8" fill="none"/>
<polygon points="572.70,121.99 578.50,121.99 575.60,127.69" fill="#2a679e" stroke="#2a679e" stroke-width="0.8" stroke-linejoin="round"/>
<polygon points="579.10,134.00 577.35,137.03 573.85,137.03 572.10,134.00 573.85,130.97 577.35,130.97" fill="#92d936"/>
<text x="583.4" y="100.6" font-size="8.5" text-anchor="start" font-weight="bold" fill="#22be6c" textLength="52.6" lengthAdjust="spacingAndGlyphs">Tabucol GPU</text>
<text x="583.4" y="109.5" font-size="8.4" text-anchor="start" font-weight="bold" fill="#23918b" textLength="92" lengthAdjust="spacingAndGlyphs">Probabilistic Ising GPU</text>
<text x="583.4" y="118.9" font-size="8.5" text-anchor="start" font-weight="bold" fill="#3f4889" textLength="63.6" lengthAdjust="spacingAndGlyphs">Vectorized GPU</text>
<text x="583.4" y="127.9" font-size="8.5" text-anchor="start" font-weight="bold" fill="#2a679e" textLength="69" lengthAdjust="spacingAndGlyphs">Vectorized-FPGA</text>
<text x="583.4" y="136.6" font-size="7.3" text-anchor="start" font-weight="bold" fill="#92d936" textLength="91.6" lengthAdjust="spacingAndGlyphs">Simulated Bifurcation GPU</text>
<rect x="343.5" y="7.6" width="332.70000000000005" height="132.6" fill="none" stroke="#000" stroke-width="1.4"/>
<line x1="341.0" y1="319.7" x2="343.2" y2="319.7" stroke="#000" stroke-width="0.9" stroke-linecap="butt"/>
<text x="338.6" y="320.30" font-size="7.0" text-anchor="end" fill="#1a1a1a" textLength="4.4" lengthAdjust="spacingAndGlyphs" stroke="#1a1a1a" stroke-width="0.15">1</text>
<text x="333.60" y="323.80" font-size="10.2" text-anchor="end" fill="#1a1a1a" textLength="11.0" lengthAdjust="spacingAndGlyphs" stroke="#1a1a1a" stroke-width="0.15">10</text>
<line x1="341.0" y1="301.03" x2="343.2" y2="301.03" stroke="#000" stroke-width="0.9" stroke-linecap="butt"/>
<text x="338.6" y="301.63" font-size="7.0" text-anchor="end" fill="#1a1a1a" textLength="4.4" lengthAdjust="spacingAndGlyphs" stroke="#1a1a1a" stroke-width="0.15">3</text>
<text x="333.60" y="305.13" font-size="10.2" text-anchor="end" fill="#1a1a1a" textLength="11.0" lengthAdjust="spacingAndGlyphs" stroke="#1a1a1a" stroke-width="0.15">10</text>
<line x1="341.0" y1="282.36" x2="343.2" y2="282.36" stroke="#000" stroke-width="0.9" stroke-linecap="butt"/>
<text x="338.6" y="282.96" font-size="7.0" text-anchor="end" fill="#1a1a1a" textLength="4.4" lengthAdjust="spacingAndGlyphs" stroke="#1a1a1a" stroke-width="0.15">5</text>
<text x="333.60" y="286.46" font-size="10.2" text-anchor="end" fill="#1a1a1a" textLength="11.0" lengthAdjust="spacingAndGlyphs" stroke="#1a1a1a" stroke-width="0.15">10</text>
<line x1="341.0" y1="263.69" x2="343.2" y2="263.69" stroke="#000" stroke-width="0.9" stroke-linecap="butt"/>
<text x="338.6" y="264.29" font-size="7.0" text-anchor="end" fill="#1a1a1a" textLength="4.4" lengthAdjust="spacingAndGlyphs" stroke="#1a1a1a" stroke-width="0.15">7</text>
<text x="333.60" y="267.79" font-size="10.2" text-anchor="end" fill="#1a1a1a" textLength="11.0" lengthAdjust="spacingAndGlyphs" stroke="#1a1a1a" stroke-width="0.15">10</text>
<line x1="341.0" y1="245.01" x2="343.2" y2="245.01" stroke="#000" stroke-width="0.9" stroke-linecap="butt"/>
<text x="338.6" y="245.61" font-size="7.0" text-anchor="end" fill="#1a1a1a" textLength="4.4" lengthAdjust="spacingAndGlyphs" stroke="#1a1a1a" stroke-width="0.15">9</text>
<text x="333.60" y="249.11" font-size="10.2" text-anchor="end" fill="#1a1a1a" textLength="11.0" lengthAdjust="spacingAndGlyphs" stroke="#1a1a1a" stroke-width="0.15">10</text>
<line x1="341.0" y1="226.34" x2="343.2" y2="226.34" stroke="#000" stroke-width="0.9" stroke-linecap="butt"/>
<text x="338.6" y="226.94" font-size="7.0" text-anchor="end" fill="#1a1a1a" textLength="8.8" lengthAdjust="spacingAndGlyphs" stroke="#1a1a1a" stroke-width="0.15">11</text>
<text x="329.20" y="230.44" font-size="10.2" text-anchor="end" fill="#1a1a1a" textLength="11.0" lengthAdjust="spacingAndGlyphs" stroke="#1a1a1a" stroke-width="0.15">10</text>
<line x1="341.0" y1="207.67" x2="343.2" y2="207.67" stroke="#000" stroke-width="0.9" stroke-linecap="butt"/>
<text x="338.6" y="208.27" font-size="7.0" text-anchor="end" fill="#1a1a1a" textLength="8.8" lengthAdjust="spacingAndGlyphs" stroke="#1a1a1a" stroke-width="0.15">13</text>
<text x="329.20" y="211.77" font-size="10.2" text-anchor="end" fill="#1a1a1a" textLength="11.0" lengthAdjust="spacingAndGlyphs" stroke="#1a1a1a" stroke-width="0.15">10</text>
<line x1="341.0" y1="189.0" x2="343.2" y2="189.0" stroke="#000" stroke-width="0.9" stroke-linecap="butt"/>
<text x="338.6" y="189.60" font-size="7.0" text-anchor="end" fill="#1a1a1a" textLength="8.8" lengthAdjust="spacingAndGlyphs" stroke="#1a1a1a" stroke-width="0.15">15</text>
<text x="329.20" y="193.10" font-size="10.2" text-anchor="end" fill="#1a1a1a" textLength="11.0" lengthAdjust="spacingAndGlyphs" stroke="#1a1a1a" stroke-width="0.15">10</text>
<line x1="343.2" y1="319.8" x2="343.2" y2="322.0" stroke="#000" stroke-width="0.9" stroke-linecap="butt"/>
<text x="343.2" y="332.1" font-size="10.2" text-anchor="middle" font-weight="normal" fill="#1a1a1a" textLength="6.0" lengthAdjust="spacingAndGlyphs" stroke="#1a1a1a" stroke-width="0.15">0</text>
<line x1="384.82" y1="319.8" x2="384.82" y2="322.0" stroke="#000" stroke-width="0.9" stroke-linecap="butt"/>
<text x="384.82" y="332.1" font-size="10.2" text-anchor="middle" font-weight="normal" fill="#1a1a1a" textLength="11.6" lengthAdjust="spacingAndGlyphs" stroke="#1a1a1a" stroke-width="0.15">25</text>
<line x1="426.45" y1="319.8" x2="426.45" y2="322.0" stroke="#000" stroke-width="0.9" stroke-linecap="butt"/>
<text x="426.45" y="332.1" font-size="10.2" text-anchor="middle" font-weight="normal" fill="#1a1a1a" textLength="11.6" lengthAdjust="spacingAndGlyphs" stroke="#1a1a1a" stroke-width="0.15">50</text>
<line x1="468.07" y1="319.8" x2="468.07" y2="322.0" stroke="#000" stroke-width="0.9" stroke-linecap="butt"/>
<text x="468.07" y="332.1" font-size="10.2" text-anchor="middle" font-weight="normal" fill="#1a1a1a" textLength="11.6" lengthAdjust="spacingAndGlyphs" stroke="#1a1a1a" stroke-width="0.15">75</text>
<line x1="509.7" y1="319.8" x2="509.7" y2="322.0" stroke="#000" stroke-width="0.9" stroke-linecap="butt"/>
<text x="509.7" y="332.1" font-size="10.2" text-anchor="middle" font-weight="normal" fill="#1a1a1a" textLength="17.8" lengthAdjust="spacingAndGlyphs" stroke="#1a1a1a" stroke-width="0.15">100</text>
<line x1="551.33" y1="319.8" x2="551.33" y2="322.0" stroke="#000" stroke-width="0.9" stroke-linecap="butt"/>
<text x="551.33" y="332.1" font-size="10.2" text-anchor="middle" font-weight="normal" fill="#1a1a1a" textLength="17.8" lengthAdjust="spacingAndGlyphs" stroke="#1a1a1a" stroke-width="0.15">125</text>
<line x1="592.95" y1="319.8" x2="592.95" y2="322.0" stroke="#000" stroke-width="0.9" stroke-linecap="butt"/>
<text x="592.95" y="332.1" font-size="10.2" text-anchor="middle" font-weight="normal" fill="#1a1a1a" textLength="17.8" lengthAdjust="spacingAndGlyphs" stroke="#1a1a1a" stroke-width="0.15">150</text>
<line x1="634.58" y1="319.8" x2="634.58" y2="322.0" stroke="#000" stroke-width="0.9" stroke-linecap="butt"/>
<text x="634.58" y="332.1" font-size="10.2" text-anchor="middle" font-weight="normal" fill="#1a1a1a" textLength="17.8" lengthAdjust="spacingAndGlyphs" stroke="#1a1a1a" stroke-width="0.15">175</text>
<line x1="676.2" y1="319.8" x2="676.2" y2="322.0" stroke="#000" stroke-width="0.9" stroke-linecap="butt"/>
<text x="676.2" y="332.1" font-size="10.2" text-anchor="middle" font-weight="normal" fill="#1a1a1a" textLength="17.8" lengthAdjust="spacingAndGlyphs" stroke="#1a1a1a" stroke-width="0.15">200</text>
<text x="508.7" y="343.9" font-size="10.4" text-anchor="middle" font-weight="normal" fill="#1a1a1a" textLength="144.2" lengthAdjust="spacingAndGlyphs" stroke="#1a1a1a" stroke-width="0.15">Problem Graph Size (# Nodes)</text>
<text transform="translate(313.0,254.4) rotate(-90)" x="0" y="0" font-size="10.0" text-anchor="middle" fill="#1a1a1a" textLength="104.7" lengthAdjust="spacingAndGlyphs" stroke="#1a1a1a" stroke-width="0.15">Energy to Solution (nJ)</text>
<rect x="400.40" y="209.00" width="5.20" height="5.20" fill="#22be6c"/>
<rect x="421.80" y="205.80" width="5.20" height="5.20" fill="#22be6c"/>
<rect x="447.00" y="213.40" width="5.20" height="5.20" fill="#22be6c"/>
<rect x="381.80" y="228.00" width="5.20" height="5.20" fill="#22be6c"/>
<rect x="418.40" y="236.80" width="5.20" height="5.20" fill="#22be6c"/>
<rect x="463.80" y="238.40" width="5.20" height="5.20" fill="#22be6c"/>
<rect x="378.40" y="243.80" width="5.20" height="5.20" fill="#22be6c"/>
<rect x="358.40" y="250.00" width="5.20" height="5.20" fill="#22be6c"/>
<rect x="485.40" y="227.40" width="5.20" height="5.20" fill="#22be6c"/>
<rect x="498.40" y="233.80" width="5.20" height="5.20" fill="#22be6c"/>
<rect x="541.80" y="214.40" width="5.20" height="5.20" fill="#22be6c"/>
<rect x="570.40" y="228.80" width="5.20" height="5.20" fill="#22be6c"/>
<rect x="622.40" y="214.00" width="5.20" height="5.20" fill="#22be6c"/>
<rect x="659.00" y="229.00" width="5.20" height="5.20" fill="#22be6c"/>
<path d="M382.10 210.30L386.70 214.90M382.10 214.90L386.70 210.30" stroke="#3f4889" stroke-width="1.9" fill="none"/>
<path d="M400.70 217.70L405.30 222.30M400.70 222.30L405.30 217.70" stroke="#3f4889" stroke-width="1.9" fill="none"/>
<path d="M422.10 201.10L426.70 205.70M422.10 205.70L426.70 201.10" stroke="#3f4889" stroke-width="1.9" fill="none"/>
<path d="M447.30 215.30L451.90 219.90M447.30 219.90L451.90 215.30" stroke="#3f4889" stroke-width="1.9" fill="none"/>
<path d="M418.70 223.70L423.30 228.30M418.70 228.30L423.30 223.70" stroke="#3f4889" stroke-width="1.9" fill="none"/>
<path d="M378.70 234.30L383.30 238.90M378.70 238.90L383.30 234.30" stroke="#3f4889" stroke-width="1.9" fill="none"/>
<path d="M464.10 228.70L468.70 233.30M464.10 233.30L468.70 228.70" stroke="#3f4889" stroke-width="1.9" fill="none"/>
<path d="M475.30 213.70L479.90 218.30M475.30 218.30L479.90 213.70" stroke="#3f4889" stroke-width="1.9" fill="none"/>
<path d="M358.70 249.10L363.30 253.70M358.70 253.70L363.30 249.10" stroke="#3f4889" stroke-width="1.9" fill="none"/>
<path d="M485.70 215.30L490.30 219.90M485.70 219.90L490.30 215.30" stroke="#3f4889" stroke-width="1.9" fill="none"/>
<path d="M500.20 211.30L504.80 215.90M500.20 215.90L504.80 211.30" stroke="#3f4889" stroke-width="1.9" fill="none"/>
<path d="M500.20 216.70L504.80 221.30M500.20 221.30L504.80 216.70" stroke="#3f4889" stroke-width="1.9" fill="none"/>
<path d="M542.10 211.10L546.70 215.70M542.10 215.70L546.70 211.10" stroke="#3f4889" stroke-width="1.9" fill="none"/>
<path d="M570.70 211.10L575.30 215.70M570.70 215.70L575.30 211.10" stroke="#3f4889" stroke-width="1.9" fill="none"/>
<path d="M622.70 209.30L627.30 213.90M622.70 213.90L627.30 209.30" stroke="#3f4889" stroke-width="1.9" fill="none"/>
<path d="M659.30 211.70L663.90 216.30M659.30 216.30L663.90 211.70" stroke="#3f4889" stroke-width="1.9" fill="none"/>
<line x1="361" y1="234.6" x2="659" y2="219.4" stroke="#22be6c" stroke-width="1.6" stroke-dasharray="5.7 2.3" stroke-linecap="butt"/>
<line x1="361" y1="227.6" x2="659" y2="207.1" stroke="#3f4889" stroke-width="1.6" stroke-dasharray="5.7 2.3" stroke-linecap="butt"/>
<circle cx="361.6" cy="231.1" r="2.7" fill="#92d936"/>
<circle cx="381" cy="231.6" r="2.7" fill="#92d936"/>
<circle cx="421" cy="230.6" r="2.7" fill="#92d936"/>
<circle cx="501.4" cy="216.9" r="2.7" fill="#92d936"/>
<line x1="361" y1="233.2" x2="505" y2="217.6" stroke="#92d936" stroke-width="2.1" stroke-dasharray="0.1 4.6" stroke-linecap="round"/>
<polygon points="361.00,211.24 362.08,214.35 365.37,214.42 362.75,216.41 363.70,219.56 361.00,217.68 358.30,219.56 359.25,216.41 356.63,214.42 359.92,214.35" fill="#23918b"/>
<polygon points="403.00,204.24 404.08,207.35 407.37,207.42 404.75,209.41 405.70,212.56 403.00,210.68 400.30,212.56 401.25,209.41 398.63,207.42 401.92,207.35" fill="#23918b"/>
<polygon points="421.00,209.84 422.08,212.95 425.37,213.02 422.75,215.01 423.70,218.16 421.00,216.28 418.30,218.16 419.25,215.01 416.63,213.02 419.92,212.95" fill="#23918b"/>
<polygon points="466.00,204.84 467.08,207.95 470.37,208.02 467.75,210.01 468.70,213.16 466.00,211.28 463.30,213.16 464.25,210.01 461.63,208.02 464.92,207.95" fill="#23918b"/>
<polygon points="477.60,192.24 478.68,195.35 481.97,195.42 479.35,197.41 480.30,200.56 477.60,198.68 474.90,200.56 475.85,197.41 473.23,195.42 476.52,195.35" fill="#23918b"/>
<polygon points="503.00,197.84 504.08,200.95 507.37,201.02 504.75,203.01 505.70,206.16 503.00,204.28 500.30,206.16 501.25,203.01 498.63,201.02 501.92,200.95" fill="#23918b"/>
<polygon points="501.00,204.84 502.08,207.95 505.37,208.02 502.75,210.01 503.70,213.16 501.00,211.28 498.30,213.16 499.25,210.01 496.63,208.02 499.92,207.95" fill="#23918b"/>
<line x1="361" y1="215.2" x2="503" y2="202.4" stroke="#23918b" stroke-width="1.7" stroke-dasharray="2 1.9" stroke-linecap="butt"/>
<polygon points="358.00,294.70 364.00,294.70 361.00,300.60" fill="#2a679e" stroke="#2a679e" stroke-width="0.8" stroke-linejoin="round"/>
<polygon points="378.00,284.30 384.00,284.30 381.00,290.20" fill="#2a679e" stroke="#2a679e" stroke-width="0.8" stroke-linejoin="round"/>
<polygon points="381.40,276.30 387.40,276.30 384.40,282.20" fill="#2a679e" stroke="#2a679e" stroke-width="0.8" stroke-linejoin="round"/>
<polygon points="400.00,274.30 406.00,274.30 403.00,280.20" fill="#2a679e" stroke="#2a679e" stroke-width="0.8" stroke-linejoin="round"/>
<polygon points="418.00,285.70 424.00,285.70 421.00,291.60" fill="#2a679e" stroke="#2a679e" stroke-width="0.8" stroke-linejoin="round"/>
<polygon points="421.40,272.70 427.40,272.70 424.40,278.60" fill="#2a679e" stroke="#2a679e" stroke-width="0.8" stroke-linejoin="round"/>
<polygon points="446.60,265.30 452.60,265.30 449.60,271.20" fill="#2a679e" stroke="#2a679e" stroke-width="0.8" stroke-linejoin="round"/>
<polygon points="463.40,280.70 469.40,280.70 466.40,286.60" fill="#2a679e" stroke="#2a679e" stroke-width="0.8" stroke-linejoin="round"/>
<polygon points="474.60,259.30 480.60,259.30 477.60,265.20" fill="#2a679e" stroke="#2a679e" stroke-width="0.8" stroke-linejoin="round"/>
<polygon points="485.00,267.70 491.00,267.70 488.00,273.60" fill="#2a679e" stroke="#2a679e" stroke-width="0.8" stroke-linejoin="round"/>
<polygon points="500.00,259.10 506.00,259.10 503.00,265.00" fill="#2a679e" stroke="#2a679e" stroke-width="0.8" stroke-linejoin="round"/>
<polygon points="498.00,271.30 504.00,271.30 501.00,277.20" fill="#2a679e" stroke="#2a679e" stroke-width="0.8" stroke-linejoin="round"/>
<polygon points="541.40,261.70 547.40,261.70 544.40,267.60" fill="#2a679e" stroke="#2a679e" stroke-width="0.8" stroke-linejoin="round"/>
<polygon points="570.00,266.70 576.00,266.70 573.00,272.60" fill="#2a679e" stroke="#2a679e" stroke-width="0.8" stroke-linejoin="round"/>
<polygon points="622.00,260.70 628.00,260.70 625.00,266.60" fill="#2a679e" stroke="#2a679e" stroke-width="0.8" stroke-linejoin="round"/>
<line x1="361" y1="283.6" x2="661.5" y2="260" stroke="#2a679e" stroke-width="1.6" stroke-dasharray="5.7 2.3" stroke-linecap="butt"/>
<rect x="565" y="271.5" width="110.5" height="47.3" fill="#fff"/>
<rect x="570.70" y="273.30" width="5.80" height="5.80" fill="none" stroke="#22be6c" stroke-width="1.4"/>
<polygon points="573.80,281.71 574.81,284.62 577.89,284.68 575.44,286.54 576.33,289.49 573.80,287.73 571.27,289.49 572.16,286.54 569.71,284.68 572.79,284.62" fill="#23918b"/>
<path d="M571.20 292.80L576.00 297.60M571.20 297.60L576.00 292.80" stroke="#3f4889" stroke-width="1.8" fill="none"/>
<polygon points="570.70,301.99 576.50,301.99 573.60,307.69" fill="#2a679e" stroke="#2a679e" stroke-width="0.8" stroke-linejoin="round"/>
<polygon points="577.10,313.60 575.35,316.63 571.85,316.63 570.10,313.60 571.85,310.57 575.35,310.57" fill="#92d936"/>
<line x1="659.5" y1="268.8" x2="664" y2="268.8" stroke="#2a679e" stroke-width="1.6" stroke-linecap="butt"/>
<text x="581" y="280.1" font-size="8.5" text-anchor="start" font-weight="bold" fill="#22be6c" textLength="52.6" lengthAdjust="spacingAndGlyphs">Tabucol GPU</text>
<text x="581" y="289.1" font-size="8.4" text-anchor="start" font-weight="bold" fill="#23918b" textLength="92.6" lengthAdjust="spacingAndGlyphs">Probabilistic Ising GPU</text>
<text x="581" y="298.5" font-size="8.5" text-anchor="start" font-weight="bold" fill="#3f4889" textLength="64.4" lengthAdjust="spacingAndGlyphs">Vectorized GPU</text>
<text x="581" y="307.5" font-size="8.5" text-anchor="start" font-weight="bold" fill="#2a679e" textLength="69.8" lengthAdjust="spacingAndGlyphs">Vectorized-FPGA</text>
<text x="581" y="316.3" font-size="7.3" text-anchor="start" font-weight="bold" fill="#92d936" textLength="92" lengthAdjust="spacingAndGlyphs">Simulated Bifurcation GPU</text>
<rect x="343.2" y="189.0" width="333.00000000000006" height="130.8" fill="none" stroke="#000" stroke-width="1.4"/>
</svg></body></html>
